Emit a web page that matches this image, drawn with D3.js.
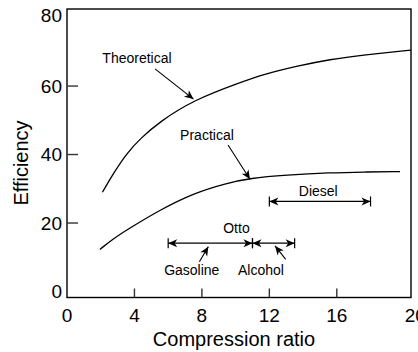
<!DOCTYPE html>
<html>
<head>
<meta charset="utf-8">
<script src="https://cdn.jsdelivr.net/npm/d3@7"></script>
<style>
  body { margin: 0; background: #fff; }
  svg { display: block; font-family: "Liberation Sans", Arial, sans-serif; }
</style>
</head>
<body>
<div id="chart"></div>
<script>
// curves (compression ratio, efficiency %)
const theoX = [2.1, 2.75, 3.55, 4.35, 5.5, 7.5, 10.25, 11.65, 13.6, 15.6, 17.6, 20.4];
const theoY = [29, 34.5, 40.4, 44.7, 49.6, 55.9, 61, 63.4, 65.8, 67.8, 69.1, 70.5];
const pracX = [1.95, 2.75, 3.55, 5.5, 7.5, 9.45, 10.85, 13, 15.6, 17.6, 19.75];
const pracY = [12.3, 15.4, 18, 23.8, 28.7, 31.6, 33.1, 34, 34.7, 34.9, 35];

// compression ratio ranges
const rangeNames = ["Diesel", "Gasoline", "Alcohol"];
const rangeFrom = [12, 6, 11];
const rangeTo = [18, 11, 13.5];
const rangeLevel = [26.3, 14.1, 14.1];

const xTicks = [0, 4, 8, 12, 16, 20];
const yTicks = [0, 20, 40, 60, 80];

const W = 418, H = 352;
const svg = d3.select("#chart").append("svg").attr("width", W).attr("height", H);

const x = d3.scaleLinear().domain([0, 20.4]).range([67, 411]);
const y = d3.scaleLinear().domain([-1.75, 82.5]).range([297.5, 9]);

const defs = svg.append("defs");
defs.append("marker").attr("id", "arr").attr("viewBox", "-10 -5 11 10")
    .attr("refX", 0).attr("refY", 0).attr("markerWidth", 11).attr("markerHeight", 10)
    .attr("markerUnits", "userSpaceOnUse").attr("orient", "auto-start-reverse")
    .append("path").attr("d", "M0,0 L-9,-4 L-6.5,0 L-9,4 Z").attr("fill", "#000");

// frame
svg.append("rect").attr("x", x(0)).attr("y", y(82.5)).attr("width", x(20.4) - x(0)).attr("height", y(-1.75) - y(82.5))
    .attr("fill", "none").attr("stroke", "#000").attr("stroke-width", 1.4);

// ticks (inside)
svg.append("g").selectAll("line").data(yTicks.filter(d => d > 0 && d < 80)).join("line")
    .attr("x1", x(0)).attr("x2", x(0) + 11).attr("y1", d => y(d)).attr("y2", d => y(d))
    .attr("stroke", "#333").attr("stroke-width", 1.4);
svg.append("g").selectAll("line").data(xTicks.filter(d => d > 0 && d < 20)).join("line")
    .attr("x1", d => x(d)).attr("x2", d => x(d)).attr("y1", y(-1.75)).attr("y2", y(-1.75) - 9)
    .attr("stroke", "#333").attr("stroke-width", 1.4);

svg.append("g").selectAll("text").data(yTicks).join("text")
    .attr("x", x(0) - 5).attr("y", d => d === 80 ? y(d) - 2 : y(d)).attr("dy", "0.35em")
    .attr("text-anchor", "end").attr("font-size", 19).text(d => d);
svg.append("g").selectAll("text").data(xTicks).join("text")
    .attr("x", d => d === 20 ? x(d) + 11 : x(d)).attr("y", 322)
    .attr("text-anchor", "middle").attr("font-size", 19).text(d => d);

svg.append("text").attr("transform", "translate(27.5,163) rotate(-90)")
    .attr("text-anchor", "middle").attr("font-size", 20).text("Efficiency");
svg.append("text").attr("x", 234).attr("y", 346)
    .attr("text-anchor", "middle").attr("font-size", 20).text("Compression ratio");

// curves (smoothed through the read points)
const line = d3.line().x(d => x(d[0])).y(d => y(d[1])).curve(d3.curveBasis);
[[theoX, theoY], [pracX, pracY]].forEach(([xs, ys]) => {
    svg.append("path").datum(xs.map((v, i) => [v, ys[i]])).attr("d", line)
        .attr("fill", "none").attr("stroke", "#000").attr("stroke-width", 1.3);
});

// range bars
const bars = svg.append("g");
rangeNames.forEach((name, i) => {
    const yy = y(rangeLevel[i]);
    bars.append("line").attr("x1", x(rangeFrom[i])).attr("x2", x(rangeTo[i])).attr("y1", yy).attr("y2", yy)
        .attr("stroke", "#000").attr("stroke-width", 1.2)
        .attr("marker-start", "url(#arr)").attr("marker-end", "url(#arr)");
    [rangeFrom[i], rangeTo[i]].forEach(v => {
        bars.append("line").attr("x1", x(v)).attr("x2", x(v)).attr("y1", yy - 5).attr("y2", yy + 5)
            .attr("stroke", "#000").attr("stroke-width", 1.2);
    });
});

// annotations
function label(txt, cx, by) {
    svg.append("text").attr("x", x(cx)).attr("y", y(by)).attr("text-anchor", "middle")
        .attr("font-size", 14).text(txt);
}
function pointer(x1, y1, x2, y2) {
    svg.append("line").attr("x1", x(x1)).attr("y1", y(y1)).attr("x2", x(x2)).attr("y2", y(y2))
        .attr("stroke", "#000").attr("stroke-width", 1.1).attr("marker-end", "url(#arr)");
}
label("Theoretical", 4.15, 66.7);
pointer(5.22, 65, 7.5, 56.2);
label("Practical", 8.3, 44.2);
pointer(9.55, 42.8, 10.85, 32.8);
label("Diesel", 14.9, 28);
label("Otto", 10.05, 17.2);
label("Gasoline", 7.4, 4.8);
pointer(7.85, 8.7, 8.38, 13.1);
label("Alcohol", 11.5, 4.8);
pointer(12.97, 9.4, 12.34, 13.3);
</script>
</body>
</html>
